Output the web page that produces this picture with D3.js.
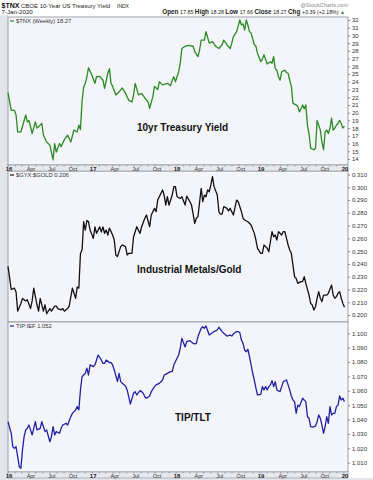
<!DOCTYPE html>
<html><head><meta charset="utf-8">
<script src="https://cdn.jsdelivr.net/npm/d3@7"></script>
<style>
body{margin:0;background:#fff}
svg{display:block}
text{font-family:"Liberation Sans",Arial,sans-serif}
</style>
</head><body>
<svg id="c" width="373" height="480"></svg>
<script>
// ---- data (week index = weeks since 1-Jan-2016) ----
const tnxWeeks=[0,2,4,5,6,8,11,12,13,15,17,18,21,22,24,26,28,29,30,32,33,35,37,39,41,43,44,45,46,47,48,49,50,52,54,55,57,59,60,62,63,64,65,67,69,71,73,75,77,78,79,81,83,85,87,88,90,91,93,94,96,99,101,102,103,104,106,107,108,110,112,115,116,118,119,120,122,123,125,127,129,131,133,134,136,138,139,140,142,144,145,146,147,148,149,150,151,153,154,155,157,158,159,160,161,163,164,165,166,167,168,169,170,172,173,174,175,176,177,179,180,181,182,183,184,185,186,187,188,190,191,192,194,195,196,197,198,199,200,201,202,203,204,205,206,207,208,209];
const tnxValues=[22.6,20.3,20.3,19.7,17.5,17.5,19.7,18.8,19.0,17.3,18.8,18.0,18.6,17.1,16.2,15.8,13.9,16.0,14.9,16.0,15.6,16.5,17.1,16.2,17.75,17.5,18.4,17.8,21.5,23.3,23.8,24.65,25.8,24.9,23.8,24.65,24.7,24.2,23.15,25.1,25.7,23.8,23.4,22.3,22.7,23.2,22.5,21.6,21.4,22.3,23.8,22.3,22.5,21.9,21.4,20.55,22.1,23.4,23.0,24.0,23.6,23.8,23.5,24.2,24.65,24.0,25.3,26.4,28.3,28.6,28.7,28.6,27.9,27.25,28.1,29.4,29.4,30.5,29.0,29.2,28.6,28.3,28.8,29.4,28.8,28.3,29.0,29.85,30.5,32.0,31.35,31.5,30.7,32.0,31.35,30.5,30.3,28.8,28.6,27.7,26.6,26.9,27.5,26.9,26.3,26.6,26.4,27.25,25.7,25.5,24.65,24.2,25.3,25.5,25.2,25.1,24.2,23.4,21.2,21.0,20.8,20.1,20.5,21.0,20.5,21.0,18.4,17.2,15.4,15.2,15.4,19.0,17.75,16.2,15.2,17.5,17.75,17.3,18.0,19.3,17.75,18.0,18.4,18.6,19.0,18.6,18.0,18.27];

const gyxWeeks=[0,2,4,5,6,8,9,11,12,14,15,16,18,19,20,22,23,24,26,27,29,30,31,33,34,35,37,38,40,41,42,43,44,45,46,47,48,49,50,51,53,54,55,57,58,59,60,61,62,63,65,66,67,68,70,71,73,74,75,77,78,80,82,83,85,86,88,89,91,92,93,94,96,97,98,99,100,102,103,104,105,107,108,110,111,113,114,116,117,118,120,121,122,123,124,125,126,127,128,130,131,132,133,134,136,137,138,139,140,142,143,144,145,146,147,149,150,151,153,154,155,157,158,159,160,161,162,163,164,165,166,167,168,170,171,172,173,174,175,176,177,178,179,180,182,183,184,185,187,188,189,190,191,192,193,194,195,196,198,199,201,202,203,204,205,206,207,208,209];
const gyxValues=[0.238,0.220,0.221,0.218,0.203,0.209,0.213,0.211,0.212,0.205,0.211,0.221,0.208,0.203,0.213,0.203,0.208,0.201,0.205,0.203,0.207,0.207,0.205,0.204,0.205,0.203,0.205,0.207,0.221,0.217,0.213,0.222,0.221,0.248,0.251,0.273,0.2665,0.274,0.273,0.2665,0.260,0.269,0.264,0.269,0.265,0.269,0.264,0.2665,0.2626,0.268,0.2626,0.2587,0.247,0.2457,0.2535,0.2548,0.2535,0.247,0.2483,0.2483,0.2613,0.2691,0.2639,0.2691,0.2757,0.2783,0.2691,0.2783,0.2835,0.2809,0.290,0.2926,0.2979,0.2939,0.2861,0.2926,0.2861,0.2939,0.3005,0.3005,0.2926,0.2913,0.2926,0.2861,0.2931,0.2887,0.2861,0.2718,0.2757,0.277,0.2992,0.2887,0.2939,0.2926,0.2979,0.2965,0.3018,0.3083,0.3005,0.2939,0.2809,0.2789,0.2789,0.2848,0.2835,0.2815,0.2835,0.2809,0.2783,0.290,0.2887,0.2848,0.2809,0.2757,0.2744,0.273,0.2718,0.2705,0.2639,0.2587,0.2522,0.2483,0.2483,0.2548,0.2535,0.2522,0.2496,0.2574,0.2652,0.2613,0.2626,0.2587,0.2652,0.2626,0.2652,0.2652,0.260,0.2548,0.2509,0.2483,0.2391,0.230,0.2287,0.2248,0.2261,0.2261,0.230,0.2248,0.2156,0.2091,0.2078,0.2039,0.2065,0.2131,0.2183,0.2131,0.2105,0.2156,0.2156,0.217,0.2235,0.2156,0.2131,0.2144,0.217,0.2183,0.2131,0.2091,0.206];

const tipWeeks=[0,2,3,4,5,6,7,8,9,10,11,12,13,14,15,16,17,18,20,21,23,24,26,27,28,29,30,32,33,34,36,37,39,40,42,43,44,45,46,47,48,49,50,51,53,54,55,56,58,59,60,61,63,64,65,66,68,69,70,71,73,74,75,76,78,79,80,82,83,84,85,86,88,89,91,92,94,96,97,98,99,101,102,103,105,106,107,108,110,111,113,115,116,117,118,120,121,122,123,125,127,128,130,131,133,134,136,138,139,140,142,143,144,145,146,147,148,149,150,151,152,153,154,155,157,158,159,160,161,162,163,164,165,166,167,169,170,171,173,174,175,176,177,178,179,180,181,183,184,185,186,187,188,189,191,192,193,194,195,196,197,198,199,200,201,202,203,204,205,206,207,208,209];
const tipValues=[1.0385,1.0305,1.0211,1.0200,1.0211,1.0142,1.0072,1.0061,1.0189,1.0281,1.0328,1.0339,1.0362,1.0328,1.0293,1.0339,1.0385,1.0328,1.0339,1.0385,1.0316,1.0328,1.0246,1.0281,1.0351,1.0293,1.0316,1.0305,1.0339,1.0362,1.0374,1.0362,1.0420,1.0443,1.0467,1.0490,1.0467,1.0606,1.0698,1.0710,1.0721,1.0757,1.0710,1.0780,1.0768,1.0780,1.0814,1.0849,1.0814,1.0791,1.0791,1.0814,1.0796,1.0796,1.0780,1.0745,1.0664,1.0721,1.0664,1.0652,1.0634,1.0606,1.0559,1.0508,1.0583,1.0594,1.0571,1.0601,1.0594,1.0583,1.0559,1.0548,1.0564,1.0594,1.0629,1.0641,1.0652,1.0675,1.0710,1.0714,1.0721,1.0733,1.0733,1.0780,1.0826,1.0849,1.0896,1.0965,1.0905,1.0942,1.0949,1.0930,1.0926,1.0930,1.0977,1.1035,1.1046,1.1035,1.1051,1.0988,1.1004,1.1012,1.1023,1.1042,1.1012,1.1000,1.0981,1.0988,1.0981,1.0995,1.1012,1.1012,1.1004,1.0953,1.0930,1.0884,1.0872,1.0889,1.0837,1.0780,1.0722,1.0675,1.0618,1.0571,1.0576,1.0629,1.0606,1.0629,1.0606,1.0629,1.0641,1.0671,1.0629,1.0664,1.0606,1.0594,1.0629,1.0664,1.0675,1.0641,1.0606,1.0564,1.0536,1.0525,1.0444,1.0501,1.0490,1.0548,1.0536,1.0525,1.0420,1.0409,1.0351,1.0347,1.0355,1.0385,1.0432,1.0409,1.0362,1.0305,1.0351,1.0420,1.0374,1.0490,1.0432,1.0443,1.0443,1.0490,1.0501,1.0564,1.0536,1.0548,1.0525];

const tnxTicks=d3.range(14,33,1);
const gyxTicks=[0.200,0.210,0.220,0.230,0.240,0.250,0.260,0.270,0.280,0.290,0.300,0.310];
const tipTicks=[1.010,1.020,1.030,1.040,1.050,1.060,1.070,1.080,1.090,1.100];
const yearLabels=["16","17","18","19","20"];
const monthLabels=["Apr","Jul","Oct"];

// ---- layout ----
const svg=d3.select("#c");
const L=8,R=348;
const start=new Date(2016,0,1);
const toDate=w=>d3.timeDay.offset(start,w*7);
const x=d3.scaleTime().domain([new Date(2016,0,1),new Date(2020,0,1)]).range([L,344]);

const panels=[
  {top:17,bottom:165,weeks:tnxWeeks,vals:tnxValues,dom:[14,32],rng:[159,20],ticks:tnxTicks,fmt:d3.format("d"),color:"#2a8a23",legend:"$TNX (Weekly) 18.27",label:"10yr Treasury Yield",lx:137,ly:131},
  {top:171,bottom:322,weeks:gyxWeeks,vals:gyxValues,dom:[0.200,0.310],rng:[315,174.5],ticks:gyxTicks,fmt:d3.format(".3f"),color:"#111111",legend:"$GYX:$GOLD 0.206",label:"Industrial Metals/Gold",lx:137,ly:273},
  {top:322,bottom:472,weeks:tipWeeks,vals:tipValues,dom:[1.010,1.100],rng:[462.7,333.3],ticks:tipTicks,fmt:d3.format(".3f"),color:"#2121a6",legend:"TIP:IEF 1.052",label:"TIP/TLT",lx:175,ly:421}
];

// background
svg.append("rect").attr("x",0).attr("y",0).attr("width",373).attr("height",480).attr("fill","#ffffff");
svg.append("rect").attr("x",0).attr("y",15).attr("width",L).attr("height",465).attr("fill","#e3e5ea");
svg.append("rect").attr("x",0).attr("y",478).attr("width",373).attr("height",2).attr("fill","#e3e5ea");

panels.forEach(p=>{
  const y=d3.scaleLinear().domain(p.dom).range(p.rng);
  svg.append("rect").attr("x",L).attr("y",p.top).attr("width",R-L).attr("height",p.bottom-p.top)
    .attr("fill","#f4f5fa").attr("stroke","#8a8d94").attr("stroke-width",0.8);
  const g=svg.append("g").attr("transform",`translate(${R},0)`)
    .call(d3.axisRight(y).tickValues(p.ticks).tickFormat(p.fmt).tickSize(2).tickPadding(2));
  g.select(".domain").remove();
  g.selectAll("line").attr("stroke","#888");
  g.selectAll("text").attr("font-size",6).attr("fill","#333").attr("font-family","Liberation Sans, Arial, sans-serif");
  const data=p.weeks.map((w,i)=>({d:toDate(w),v:p.vals[i]}));
  const line=d3.line().x(d=>x(d.d)).y(d=>y(d.v));
  svg.append("path").datum(data).attr("d",line).attr("fill","none").attr("stroke",p.color).attr("stroke-width",1.3).attr("stroke-linejoin","round");
  svg.append("line").attr("x1",10).attr("x2",14).attr("y1",p.top+4).attr("y2",p.top+4).attr("stroke",p.color).attr("stroke-width",1.2);
  svg.append("text").attr("x",16).attr("y",p.top+6).attr("font-size",5.8).attr("fill","#333").attr("font-family","DejaVu Sans Mono, monospace").text(p.legend);
  svg.append("text").attr("x",p.lx).attr("y",p.ly).attr("font-size",10).attr("font-weight","bold").attr("fill","#111").text(p.label);
});

// x-axis strips
function xStrip(top){
  svg.append("rect").attr("x",L).attr("y",top).attr("width",R-L).attr("height",6).attr("fill","#e6e8ee").attr("stroke","#8a8d94").attr("stroke-width",0.6);
  const months=d3.timeMonth.range(new Date(2016,0,1),new Date(2020,0,8));
  svg.selectAll(null).data(months).enter().append("line")
    .attr("x1",d=>x(d)).attr("x2",d=>x(d)).attr("y1",top).attr("y2",top+1.5).attr("stroke","#777").attr("stroke-width",0.6);
  const years=d3.timeYear.range(new Date(2016,0,1),new Date(2020,0,2));
  svg.selectAll(null).data(years).enter().append("text")
    .attr("x",d=>x(d)+1).attr("y",top+5.5).attr("text-anchor","middle").attr("font-size",6).attr("font-weight","bold").attr("fill","#222")
    .text((d,i)=>yearLabels[i]);
  const qs=[];
  years.slice(0,4).forEach(yd=>{[3,6,9].forEach((m,j)=>qs.push({d:new Date(yd.getFullYear(),m,1),t:monthLabels[j]}));});
  svg.selectAll(null).data(qs).enter().append("text")
    .attr("x",d=>x(d.d)+2).attr("y",top+5.5).attr("text-anchor","middle").attr("font-size",5.5).attr("fill","#333")
    .text(d=>d.t);
}
xStrip(165);
xStrip(472);

// header
const hdr=svg.append("g");
hdr.append("text").attr("x",1.5).attr("y",7.5).attr("font-size",7).attr("font-weight","bold").attr("fill","#111").text("$TNX");
hdr.append("text").attr("x",21).attr("y",7.5).attr("font-size",6).attr("fill","#222").text("CBOE 10-Year US Treasury Yield");
hdr.append("text").attr("x",117).attr("y",7.5).attr("font-size",5).attr("fill","#222").text("INDX");
hdr.append("text").attr("x",1.5).attr("y",14).attr("font-size",6.2).attr("fill","#222").text("7-Jan-2020");
hdr.append("text").attr("x",348).attr("y",6.5).attr("text-anchor","end").attr("font-size",5.5).attr("fill","#888").text("@StockCharts.com");
const ohlc=[["Open","17.85"],["High","18.28"],["Low","17.66"],["Close","18.27"],["Chg","+0.39 (+2.18%)"]];
const t=hdr.append("text").attr("x",345).attr("y",14).attr("text-anchor","end").attr("font-size",6).attr("fill","#222");
ohlc.forEach(([k,v])=>{
  t.append("tspan").attr("font-weight","bold").attr("font-size",6.3).text(k+" ");
  t.append("tspan").attr("font-size",5.3).text(v+" ");
});
t.append("tspan").attr("fill","#2a8a23").attr("font-size",5).text("▲");
</script>
</body></html>
